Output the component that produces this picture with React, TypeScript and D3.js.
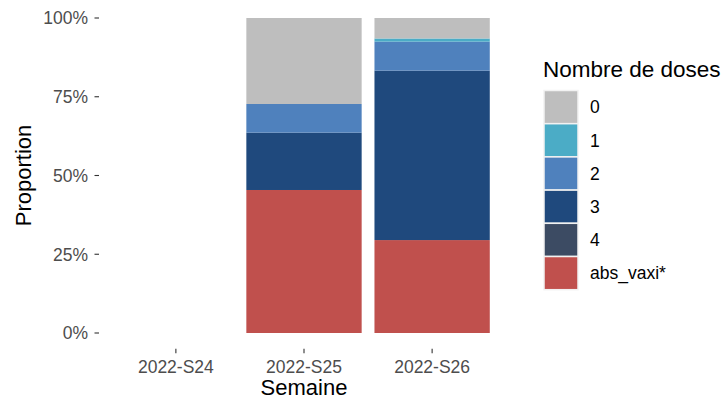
import React from "react";
import * as d3 from "d3";

const weeks = ["2022-S24", "2022-S25", "2022-S26"];
const doseLevels = ["0", "1", "2", "3", "4", "abs_vaxi*"];
const doseColors = ["#BEBEBE", "#4BACC6", "#4F81BD", "#1F497D", "#3C4B63", "#C0504D"];
// proportions (%) per week, per dose level (order as doseLevels)
const propS24: number[] = [];
const propS25 = [27.3, 0, 9.1, 18.2, 0, 45.4];
const propS26 = [6.5, 1.0, 9.2, 53.8, 0, 29.5];
const yTicks = [0, 0.25, 0.5, 0.75, 1];

const W = 727;
const H = 400;
const panel = { left: 99, right: 509, top: 2.25, bottom: 348.75 };

export default function App() {
  const x = d3.scaleBand<string>().domain(weeks).range([panel.left, panel.right]).paddingInner(0.1).paddingOuter(0.15);
  const y = d3.scaleLinear().domain([-0.05, 1.05]).range([panel.bottom, panel.top]);
  const data: Record<string, number[]> = { "2022-S24": propS24, "2022-S25": propS25, "2022-S26": propS26 };

  const rects: React.ReactNode[] = [];
  weeks.forEach((w) => {
    const vals = data[w];
    if (!vals || vals.length === 0) return;
    const total = d3.sum(vals);
    // stack from bottom: last level first
    let cum = 0;
    for (let i = doseLevels.length - 1; i >= 0; i--) {
      const v = vals[i] / total;
      if (v <= 0) continue;
      const y0 = y(cum);
      const y1 = y(cum + v);
      rects.push(
        <rect key={w + i} x={x(w)} y={y1} width={x.bandwidth()} height={y0 - y1} fill={doseColors[i]} />
      );
      cum += v;
    }
  });

  const fmt = d3.format(".0%");
  const keyH = 33.2;
  const keyTop = 90.5;

  return (
    <svg width={W} height={H} style={{ position: "absolute", left: 0, top: 0, fontFamily: "Liberation Sans, Arial, sans-serif" }}>
      <rect width={W} height={H} fill="#fff" />
      {rects}
      {yTicks.map((t) => (
        <g key={t}>
          <line x1={panel.left - 4.5} x2={panel.left} y1={y(t)} y2={y(t)} stroke="#333" strokeWidth={1.1} />
          <text x={panel.left - 11} y={y(t)} dy="0.36em" textAnchor="end" fontSize={17.5} fill="#4D4D4D">
            {fmt(t)}
          </text>
        </g>
      ))}
      {weeks.map((w) => {
        const cx = (x(w) as number) + x.bandwidth() / 2;
        return (
          <g key={w}>
            <line x1={cx} x2={cx} y1={panel.bottom} y2={panel.bottom + 4.5} stroke="#333" strokeWidth={1.1} />
            <text x={cx} y={372.5} textAnchor="middle" fontSize={17.5} fill="#4D4D4D">
              {w}
            </text>
          </g>
        );
      })}
      <text x={(panel.left + panel.right) / 2} y={395} textAnchor="middle" fontSize={22} fill="#000">
        Semaine
      </text>
      <text transform={`translate(31,${(panel.top + panel.bottom) / 2}) rotate(-90)`} textAnchor="middle" fontSize={22} fill="#000">
        Proportion
      </text>
      <text x={543} y={77} fontSize={22.5} fill="#000">
        Nombre de doses
      </text>
      {doseLevels.map((lv, i) => (
        <g key={lv}>
          <rect x={544} y={keyTop + i * keyH} width={34} height={keyH} fill={doseColors[i]} stroke="#F2F2F2" strokeWidth={1.5} />
          <text x={590} y={keyTop + i * keyH + keyH / 2} dy="0.36em" fontSize={17.5} fill="#000">
            {lv}
          </text>
        </g>
      ))}
    </svg>
  );
}
